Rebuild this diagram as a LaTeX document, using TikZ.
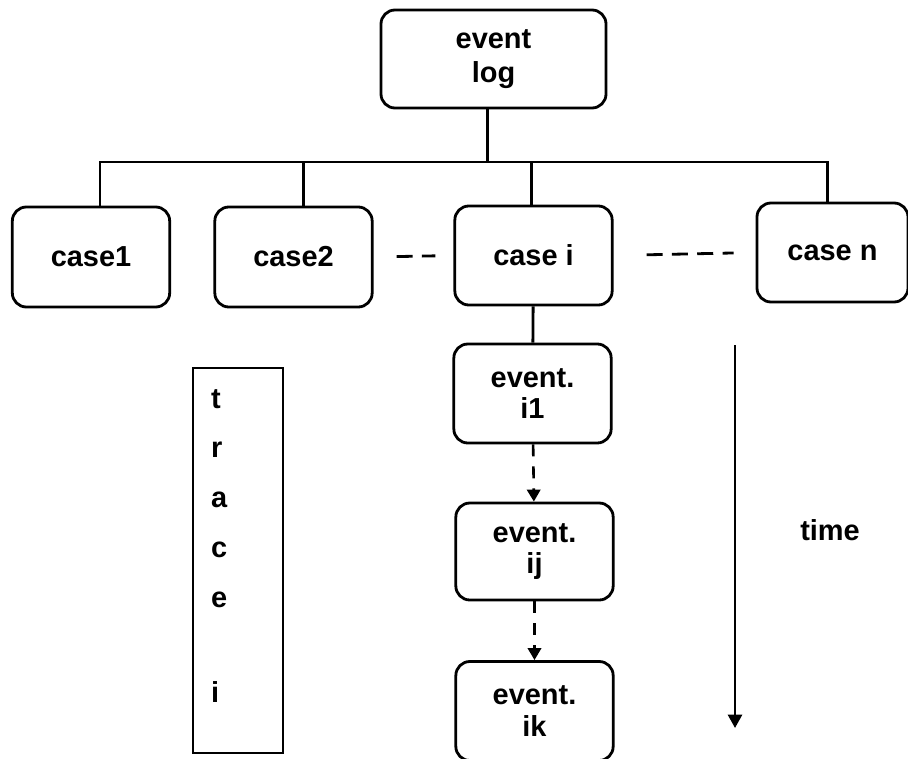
\documentclass[tikz,border=0pt]{standalone}
\usepackage{fontspec}
\setmainfont{Liberation Sans}
\usetikzlibrary{arrows.meta,calc}
\tikzset{
  box/.style={draw, line width=2.4pt, rounded corners=0.42cm, minimum width=4.72cm,
              minimum height=2.97cm, align=center, inner sep=2pt,
              font=\fontsize{24.7}{27}\selectfont\bfseries},
  link/.style={line width=2.4pt},                                   % tree lines
  flow/.style={-{Triangle[length=0.36cm,width=0.4cm]}, line width=2.2pt,
               dash pattern=on 0.36cm off 0.3cm},                  % event order
  dots/.style={line width=2.4pt, dash pattern=on 0.48cm off 0.28cm},
  tracebox/.style={draw, line width=1.3pt, minimum width=2.7cm, minimum height=11.55cm},
  tlbl/.style={anchor=base west, inner sep=0pt, font=\fontsize{24.7}{27}\selectfont\bfseries},
  timeline/.style={-{Triangle[length=0.4cm,width=0.42cm]}, line width=2.2pt},
}
\begin{document}
\begin{tikzpicture}[x=0.03cm, y=-0.03cm]
  \clip (0,0) rectangle (908,758);

  % root and cases
  \node[box, minimum width=6.75cm, minimum height=2.94cm,
        font=\fontsize{24.7}{29.5}\selectfont\bfseries] (log) at (493.5,59) {event\\log};
  \node[box, minimum height=3cm] (case1) at (91,257) {case1};
  \node[box, minimum height=3cm] (case2) at (293.5,257) {case2};
  \node[box] (casei) at (533.5,255.5) {case i};
  \node[box, minimum width=4.53cm] (casen) at (832.5,252.5) {case n};

  % events of case i
  \node[box] (ev1) at (532.5,393.5) {event.\\i1};
  \node[box, minimum height=2.91cm] (evj) at (534.5,551.5) {event.\\ij};
  \node[box] (evk) at (534.5,711) {event.\\ik};

  % tree
  \coordinate (bus) at (0,162);
  \draw[link] ($(log.south)+(-6,0)$) -- ($(log.south|-bus)+(-6,0)$);
  \draw[link] ($(case1.north)+(9,0)$) |- ($(casen.north|-bus)+(-5,0)$) -- ($(casen.north)+(-5,0)$);
  \draw[link] ($(case2.north)+(10,0)$) -- ($(case2.north|-bus)+(10,0)$);
  \draw[link] ($(casei.north)+(-2,0)$) -- ($(casei.north|-bus)+(-2,0)$);
  \draw[dots, shorten <=0.69cm, shorten >=0.54cm] (case2.east) -- (casei.west);
  \draw[dots, shorten <=0.99cm, shorten >=0.66cm] (casei.east) -- (casen.west);

  \draw[link] (casei) -- (ev1);
  \draw[flow] (ev1) -- (evj);
  \draw[flow] (evj) -- (evk);

  % trace i
  \node[tracebox] (trace) at (238,560.5) {};
  \foreach \ch/\yy in {t/408, r/457, a/507, c/557, e/607, i/702}
    \node[tlbl] (tr-\ch) at (211,\yy) {\ch};

  % time axis
  \coordinate (t0) at (735,345);
  \coordinate (t1) at (735,728);
  \draw[timeline] (t0) -- (t1);
  \node[font=\fontsize{24.7}{27}\selectfont\bfseries] (time) at (830,530) {time};
\end{tikzpicture}
\end{document}
